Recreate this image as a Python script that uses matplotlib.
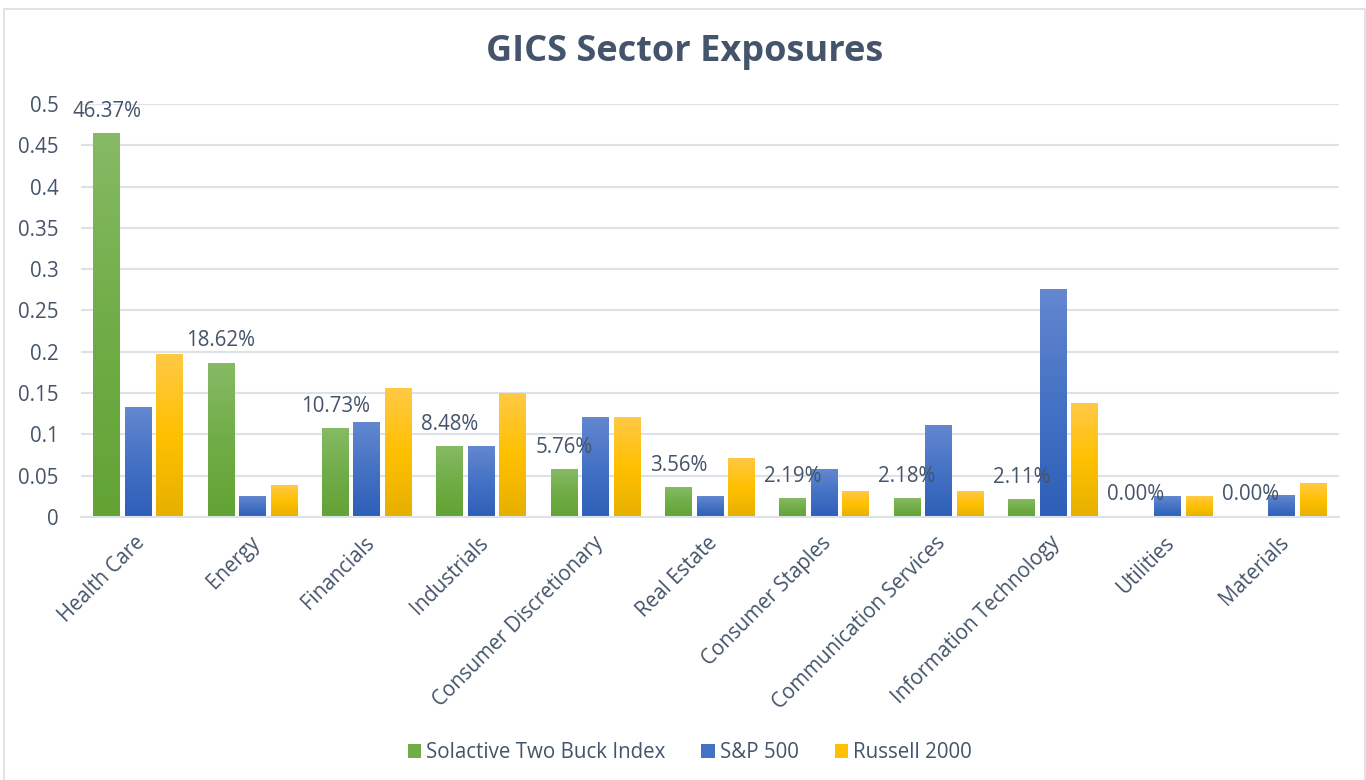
import matplotlib
matplotlib.use("Agg")
import matplotlib.pyplot as plt
import numpy as np
from matplotlib.colors import LinearSegmentedColormap
from matplotlib.patches import Rectangle
from matplotlib.ticker import FuncFormatter, MultipleLocator

plt.rcParams['font.family'] = ['Open Sans', 'DejaVu Sans']

# data
sectors = ['Health Care', 'Energy', 'Financials', 'Industrials', 'Consumer Discretionary',
           'Real Estate', 'Consumer Staples', 'Communication Services',
           'Information Technology', 'Utilities', 'Materials']
solactive = [0.4637, 0.1862, 0.1073, 0.0848, 0.0576, 0.0356, 0.0219, 0.0218, 0.0211, 0.0, 0.0]
sp500 = [0.132, 0.025, 0.115, 0.085, 0.120, 0.025, 0.058, 0.111, 0.275, 0.025, 0.026]
russell = [0.197, 0.038, 0.156, 0.149, 0.120, 0.071, 0.031, 0.031, 0.138, 0.025, 0.040]
series_names = ['Solactive Two Buck Index', 'S&P 500', 'Russell 2000']

TXT = '#44546A'
GRID = '#DDE2E8'
FS = 14.8

# gradients: top -> middle -> bottom
grads = [
    ['#86BA64', '#70AD47', '#62A334'],
    ['#6487D0', '#4472C4', '#2E5FB8'],
    ['#FFC945', '#FFC000', '#E6B000'],
]
mids = ['#70AD47', '#4472C4', '#FFC000']

fig = plt.figure(figsize=(13.66, 7.8), dpi=100)
ax = fig.add_axes([81 / 1366, 1 - 517 / 780, 1258 / 1366, 413 / 780])

x = np.arange(len(sectors))
w = 0.235
step = 0.276
allbars = []
for i, vals in enumerate([solactive, sp500, russell]):
    bars = ax.bar(x + (i - 1) * step, vals, w, color=mids[i], label=series_names[i], zorder=2)
    cmap = LinearSegmentedColormap.from_list('g%d' % i, grads[i][::-1])
    grad = np.linspace(0, 1, 100).reshape(-1, 1)
    for b in bars:
        h = b.get_height()
        if h <= 0:
            continue
        x0 = b.get_x()
        ax.imshow(grad, cmap=cmap, origin='lower', aspect='auto',
                  extent=[x0, x0 + b.get_width(), 0, h], zorder=2.5)
    allbars.append(bars)

# labels above green bars
for xi, v in zip(x - step, solactive):
    ax.annotate('%.2f%%' % (v * 100), xy=(xi, v), xytext=(0, 16), textcoords='offset points',
                ha='center', va='center', fontsize=FS, color=TXT, zorder=4)

ax.set_xlim(-0.5, len(sectors) - 0.5)
ax.set_ylim(0, 0.5)
ax.yaxis.set_major_locator(MultipleLocator(0.05))
ax.yaxis.set_major_formatter(FuncFormatter(lambda v, p: '%g' % round(v, 2)))
ax.grid(axis='y', color=GRID, lw=1.5, zorder=0)
ax.set_axisbelow(True)
for s in ['top', 'right', 'left']:
    ax.spines[s].set_visible(False)
ax.spines['bottom'].set_color(GRID)
ax.spines['bottom'].set_linewidth(1.5)
ax.tick_params(axis='y', length=0, pad=16, labelsize=FS, labelcolor=TXT)
ax.tick_params(axis='x', length=0, pad=11, labelsize=FS, labelcolor=TXT)
ax.set_xticks(x - 0.03)
ax.set_xticklabels(sectors, rotation=45, ha='right', va='top', rotation_mode='anchor')

fig.text(0.501, 1 - 52 / 780, 'GICS Sector Exposures', ha='center', va='center',
         fontsize=26, fontweight='bold', color=TXT)

fig.legend(handles=allbars, labels=series_names, loc='center', bbox_to_anchor=(0.505, 1 - 753 / 780),
           ncol=3, frameon=False, fontsize=FS, labelcolor=TXT, handlelength=0.65,
           handleheight=0.65, handletextpad=0.25, columnspacing=1.75)

fig.patches.append(Rectangle((3.5 / 1366, -0.01), 1361 / 1366, 1 - 9 / 780 + 0.01,
                             transform=fig.transFigure, fill=False, edgecolor='#D9DEE5', lw=1.2))

fig.savefig('out.png', dpi=100, facecolor='white')
